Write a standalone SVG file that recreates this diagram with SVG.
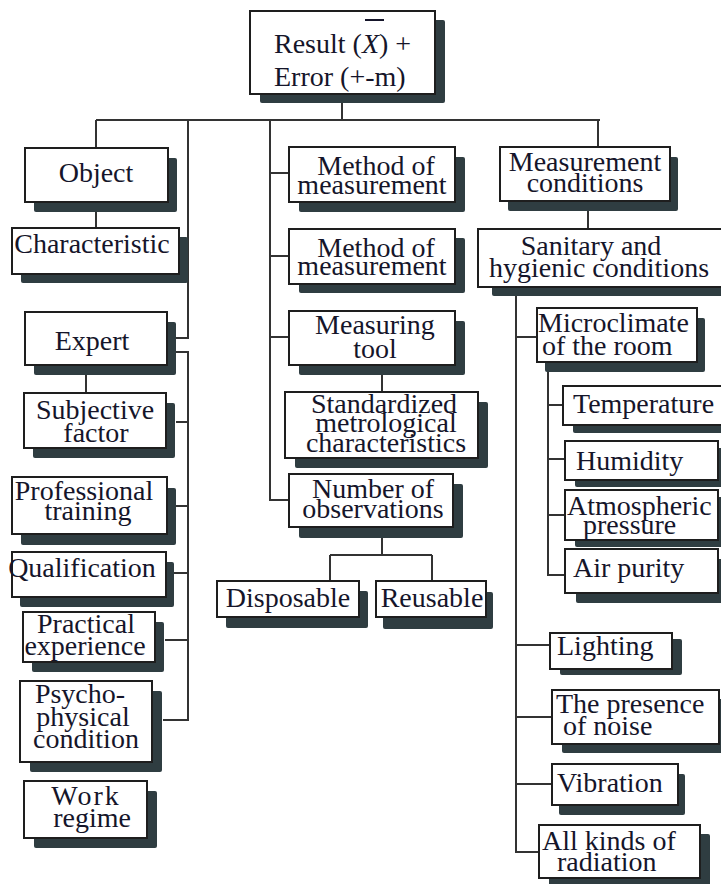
<svg xmlns="http://www.w3.org/2000/svg" width="721" height="884" viewBox="0 0 721 884">
<style>
.sh{fill:#2f3d41}
.box{fill:#fff;stroke:#1e1e1e;stroke-width:2}
.t{font-family:"Liberation Serif","Times New Roman",serif;font-size:28px;fill:#15152a}
.c{text-anchor:middle}
.conn{fill:none;stroke:#333;stroke-width:2}
</style>
<rect width="721" height="884" fill="#fff"/>
<g id="connectors" class="conn">
<path d="M342 94V120M96 120H600M96 120V148M96 202V228"/>
<path d="M188 120V338H170"/>
<path d="M170 352H188V720H163M176 422H188M176 506H188M174 573H188M165 640H188"/>
<path d="M86 365V393"/>
<path d="M270 120V500H289M270 173H289M270 256H289M270 337H289"/>
<path d="M382 365V392M382 527V555M330 555H432M330 555V581M432 555V581"/>
<path d="M598 120V147M588 201V229"/>
<path d="M516 287V852H539M516 337H537M516 645H550M516 717H552M516 784H552"/>
<path d="M548 362V575H565M548 405H563M548 459H565M548 515H565"/>
</g>
<g id="result">
<rect class="sh" x="260" y="20" width="185" height="83" rx="2"/>
<rect class="box" x="250" y="11" width="185" height="83"/>
<text class="t" x="274" y="53">Result (<tspan font-style="italic">X</tspan>) +</text>
<line x1="365" y1="20" x2="384" y2="20" stroke="#15152a" stroke-width="2"/>
<text class="t" x="274" y="86">Error (+-m)</text>
</g>
<g id="object">
<rect class="sh" x="34" y="158" width="143" height="54" rx="2"/>
<rect class="box" x="25" y="148" width="143" height="54"/>
<text class="t c" x="96" y="182">Object</text>
</g>
<g id="characteristic">
<rect class="sh" x="21" y="237" width="167" height="46" rx="2"/>
<rect class="box" x="12" y="228" width="167" height="46"/>
<text class="t c" x="92" y="253">Characteristic</text>
</g>
<g id="expert">
<rect class="sh" x="34" y="322" width="142" height="53" rx="2"/>
<rect class="box" x="25" y="312" width="142" height="53"/>
<text class="t c" x="92" y="350">Expert</text>
</g>
<g id="subjective">
<rect class="sh" x="33" y="403" width="142" height="55" rx="2"/>
<rect class="box" x="24" y="393" width="142" height="55"/>
<text class="t c" x="95" y="419">Subjective</text>
<text class="t c" x="96" y="442">factor</text>
</g>
<g id="professional">
<rect class="sh" x="21" y="488" width="155" height="57" rx="2"/>
<rect class="box" x="12" y="477" width="155" height="57"/>
<text class="t c" x="84" y="500">Professional</text>
<text class="t c" x="88" y="520">training</text>
</g>
<g id="qualification">
<rect class="sh" x="20" y="562" width="154" height="45" rx="2"/>
<rect class="box" x="12" y="552" width="154" height="45"/>
<text class="t c" x="82" y="577">Qualification</text>
</g>
<g id="practical">
<rect class="sh" x="32" y="622" width="132" height="50" rx="2"/>
<rect class="box" x="23" y="612" width="132" height="50"/>
<text class="t c" x="86" y="633">Practical</text>
<text class="t c" x="85" y="655">experience</text>
</g>
<g id="psycho">
<rect class="sh" x="30" y="691" width="132" height="81" rx="2"/>
<rect class="box" x="20" y="681" width="132" height="81"/>
<text class="t c" x="80" y="703">Psycho-</text>
<text class="t c" x="83" y="726">physical</text>
<text class="t c" x="86" y="748">condition</text>
</g>
<g id="work">
<rect class="sh" x="34" y="791" width="123" height="57" rx="2"/>
<rect class="box" x="24" y="781" width="123" height="57"/>
<text class="t c" x="86" y="805" letter-spacing="2">Work</text>
<text class="t c" x="92" y="827">regime</text>
</g>
<g id="method1">
<rect class="sh" x="299" y="157" width="166" height="55" rx="2"/>
<rect class="box" x="289" y="147" width="166" height="55"/>
<text class="t c" x="376" y="175">Method of</text>
<text class="t c" x="372" y="194">measurement</text>
</g>
<g id="method2">
<rect class="sh" x="299" y="238" width="166" height="55" rx="2"/>
<rect class="box" x="289" y="229" width="166" height="55"/>
<text class="t c" x="376" y="257">Method of</text>
<text class="t c" x="372" y="275">measurement</text>
</g>
<g id="tool">
<rect class="sh" x="299" y="321" width="166" height="54" rx="2"/>
<rect class="box" x="289" y="311" width="166" height="54"/>
<text class="t c" x="375" y="334">Measuring</text>
<text class="t c" x="375" y="358">tool</text>
</g>
<g id="standardized">
<rect class="sh" x="295" y="402" width="193" height="66" rx="2"/>
<rect class="box" x="285" y="392" width="193" height="66"/>
<text class="t c" x="384" y="413">Standardized</text>
<text class="t c" x="386" y="432">metrological</text>
<text class="t c" x="386" y="452">characteristics</text>
</g>
<g id="observations">
<rect class="sh" x="299" y="484" width="164" height="54" rx="2"/>
<rect class="box" x="289" y="474" width="164" height="53"/>
<text class="t c" x="373" y="498">Number of</text>
<text class="t c" x="373" y="518">observations</text>
</g>
<g id="disposable">
<rect class="sh" x="226" y="591" width="142" height="37" rx="2"/>
<rect class="box" x="217" y="581" width="142" height="36"/>
<text class="t c" x="288" y="607">Disposable</text>
</g>
<g id="reusable">
<rect class="sh" x="383" y="592" width="110" height="37" rx="2"/>
<rect class="box" x="376" y="581" width="110" height="36"/>
<text class="t c" x="432" y="607">Reusable</text>
</g>
<g id="conditions">
<rect class="sh" x="508" y="157" width="170" height="54" rx="2"/>
<rect class="box" x="500" y="147" width="170" height="54"/>
<text class="t c" x="585" y="171">Measurement</text>
<text class="t c" x="585" y="192">conditions</text>
</g>
<g id="sanitary">
<rect class="sh" x="492" y="238" width="250" height="58" rx="2"/>
<rect class="box" x="478" y="229" width="250" height="58"/>
<text class="t c" x="591" y="255">Sanitary and</text>
<text class="t c" x="599" y="277">hygienic conditions</text>
</g>
<g id="microclimate">
<rect class="sh" x="545" y="318" width="160" height="54" rx="2"/>
<rect class="box" x="537" y="308" width="160" height="54"/>
<text class="t" x="538" y="332">Microclimate</text>
<text class="t" x="542" y="355">of the room</text>
</g>
<g id="temperature">
<rect class="sh" x="573" y="394" width="165" height="39" rx="2"/>
<rect class="box" x="563" y="386" width="165" height="39"/>
<text class="t" x="573" y="413">Temperature</text>
</g>
<g id="humidity">
<rect class="sh" x="575" y="448" width="153" height="39" rx="2"/>
<rect class="box" x="565" y="441" width="153" height="39"/>
<text class="t" x="576" y="470">Humidity</text>
</g>
<g id="atmospheric">
<rect class="sh" x="575" y="497" width="153" height="50" rx="2"/>
<rect class="box" x="565" y="490" width="153" height="50"/>
<text class="t" x="567" y="515">Atmospheric</text>
<text class="t" x="583" y="534">pressure</text>
</g>
<g id="airpurity">
<rect class="sh" x="576" y="559" width="153" height="44" rx="2"/>
<rect class="box" x="565" y="549" width="153" height="44"/>
<text class="t" x="573" y="577">Air purity</text>
</g>
<g id="lighting">
<rect class="sh" x="560" y="639" width="122" height="36" rx="2"/>
<rect class="box" x="550" y="633" width="122" height="36"/>
<text class="t" x="557" y="655">Lighting</text>
</g>
<g id="noise">
<rect class="sh" x="562" y="699" width="167" height="54" rx="2"/>
<rect class="box" x="552" y="690" width="167" height="54"/>
<text class="t" x="556" y="713">The presence</text>
<text class="t" x="563" y="735">of noise</text>
</g>
<g id="vibration">
<rect class="sh" x="559" y="774" width="126" height="41" rx="2"/>
<rect class="box" x="552" y="764" width="126" height="41"/>
<text class="t" x="557" y="792">Vibration</text>
</g>
<g id="radiation">
<rect class="sh" x="549" y="834" width="161" height="53" rx="2"/>
<rect class="box" x="539" y="825" width="161" height="53"/>
<text class="t" x="542" y="850">All kinds of</text>
<text class="t" x="557" y="871">radiation</text>
</g>
</svg>
